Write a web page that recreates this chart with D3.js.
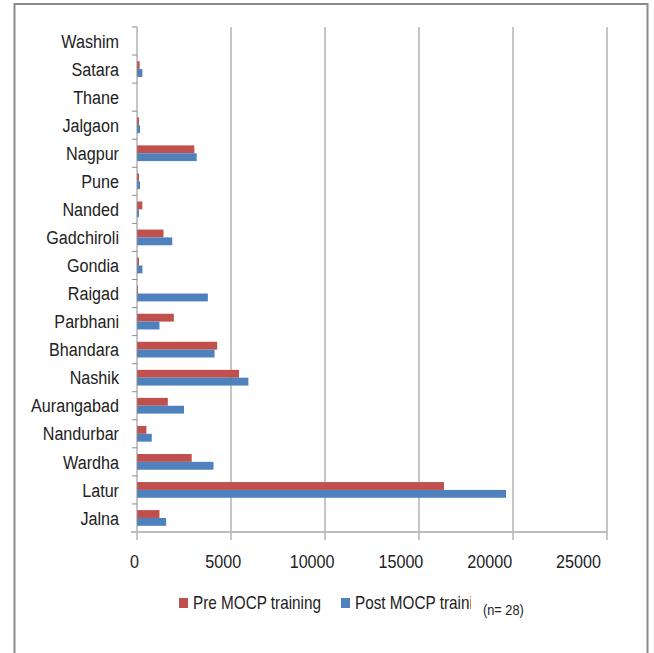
<!DOCTYPE html>
<html>
<head>
<meta charset="utf-8">
<script src="https://cdn.jsdelivr.net/npm/d3@7"></script>
<style>
  body { margin: 0; background: #fff; }
  text { font-family: "Liberation Sans", Arial, sans-serif; fill: #222; }
</style>
</head>
<body>
<svg id="chart" width="654" height="653"></svg>
<script>
// districts, top to bottom as in the chart
const districts = ['Washim', 'Satara', 'Thane', 'Jalgaon', 'Nagpur', 'Pune', 'Nanded', 'Gadchiroli',
    'Gondia', 'Raigad', 'Parbhani', 'Bhandara', 'Nashik', 'Aurangabad', 'Nandurbar', 'Wardha', 'Latur', 'Jalna'];
const preTraining = [0, 140, 0, 105, 3050, 105, 285, 1410, 105, 50, 1960, 4265, 5425, 1640, 500, 2910, 16330, 1195];
const postTraining = [0, 285, 0, 160, 3175, 160, 105, 1875, 285, 3770, 1195, 4125, 5925, 2500, 785, 4070, 19630, 1550];
// the second legend entry is cut off in the source picture
const legendLabels = ['Pre MOCP training', 'Post MOCP trainin'];
const seriesColors = ['#C0504D', '#4F81BD'];
const xTicks = [0, 5000, 10000, 15000, 20000, 25000];

const svg = d3.select('#chart');
const plotLeft = 137, plotRight = 607, plotTop = 27, plotBottom = 532;
const squeeze = 'scale(0.85,1)'; // narrow, tall lettering like the original

// frame
svg.append('path')
    .attr('d', 'M14.5,660 V4 H647.5 V660')
    .attr('fill', 'none')
    .attr('stroke', '#8a8a8a')
    .attr('stroke-width', 2);

const x = d3.scaleLinear().domain([0, 25000]).range([plotLeft, plotRight]);
const y = d3.scaleBand().domain(districts).range([plotTop, plotBottom]).paddingInner(0.44).paddingOuter(0.22);
const sub = d3.scaleBand().domain([0, 1]).range([0, y.bandwidth()]);

//gridlines with tick marks below axis
svg.append('g')
    .selectAll('line')
    .data(xTicks.slice(1))
    .join('line')
    .attr('x1', d => x(d)).attr('x2', d => x(d))
    .attr('y1', plotTop).attr('y2', plotBottom + 8)
    .attr('stroke', '#8c8c8c')
    .attr('stroke-width', 1);

//bars
const rows = districts.map((name, i) => ({ name, values: [preTraining[i], postTraining[i]] }));
svg.append('g')
    .selectAll('g')
    .data(rows)
    .join('g')
    .attr('transform', d => `translate(0,${y(d.name)})`)
    .selectAll('rect')
    .data(d => d.values.map((v, k) => ({ v, k })))
    .join('rect')
    .attr('x', x(0))
    .attr('y', d => sub(d.k))
    .attr('width', d => x(d.v) - x(0))
    .attr('height', sub.bandwidth())
    .attr('fill', d => seriesColors[d.k]);

//y axis line + ticks between categories
const yAxis = svg.append('g');
yAxis.append('line')
    .attr('x1', plotLeft).attr('x2', plotLeft)
    .attr('y1', plotTop).attr('y2', plotBottom + 8)
    .attr('stroke', '#8c8c8c');
const step = (plotBottom - plotTop) / districts.length;
yAxis.selectAll('line.tick')
    .data(districts.map((d, i) => plotTop + i * step))
    .join('line')
    .attr('class', 'tick')
    .attr('x1', plotLeft - 5).attr('x2', plotLeft)
    .attr('y1', d => d).attr('y2', d => d)
    .attr('stroke', '#8c8c8c');
yAxis.selectAll('text')
    .data(districts)
    .join('text')
    .attr('transform', d => `translate(119,${y(d) + y.bandwidth() / 2}) ${squeeze}`)
    .attr('dy', '0.35em')
    .attr('text-anchor', 'end')
    .attr('font-size', 19)
    .text(d => d);

//x axis line
svg.append('line')
    .attr('x1', plotLeft - 6).attr('x2', plotRight)
    .attr('y1', plotBottom).attr('y2', plotBottom)
    .attr('stroke', '#bdbdbd')
    .attr('stroke-width', 2);

// tick labels sit a little left of their gridlines in the reference
const xLabel = x.copy().range([134, 578]);
const xAxis = svg.append('g')
    .attr('transform', `translate(0,${plotBottom + 20})`)
    .call(d3.axisBottom(xLabel).tickValues(xTicks).tickFormat(d3.format('d')).tickSize(0));
xAxis.select('.domain').remove();
xAxis.selectAll('text')
    .attr('font-size', 19)
    .attr('font-family', '"Liberation Sans", Arial, sans-serif')
    .attr('fill', '#222')
    .attr('transform', squeeze);

//legend
svg.append('defs').append('clipPath').attr('id', 'legclip')
    .append('rect').attr('x', 0).attr('y', 580).attr('width', 471).attr('height', 40);
const legend = svg.append('g').attr('clip-path', 'url(#legclip)');
const legX = [179, 341];
legendLabels.forEach((name, k) => {
    legend.append('rect')
        .attr('x', legX[k]).attr('y', 598)
        .attr('width', 9).attr('height', 10)
        .attr('fill', seriesColors[k]);
    legend.append('text')
        .attr('transform', `translate(${legX[k] + 14},609) ${squeeze}`)
        .attr('font-size', 18)
        .text(name);
});
svg.append('text')
    .attr('transform', `translate(483,615) ${squeeze}`)
    .attr('font-size', 15)
    .text('(n= 28)');
</script>
</body>
</html>
